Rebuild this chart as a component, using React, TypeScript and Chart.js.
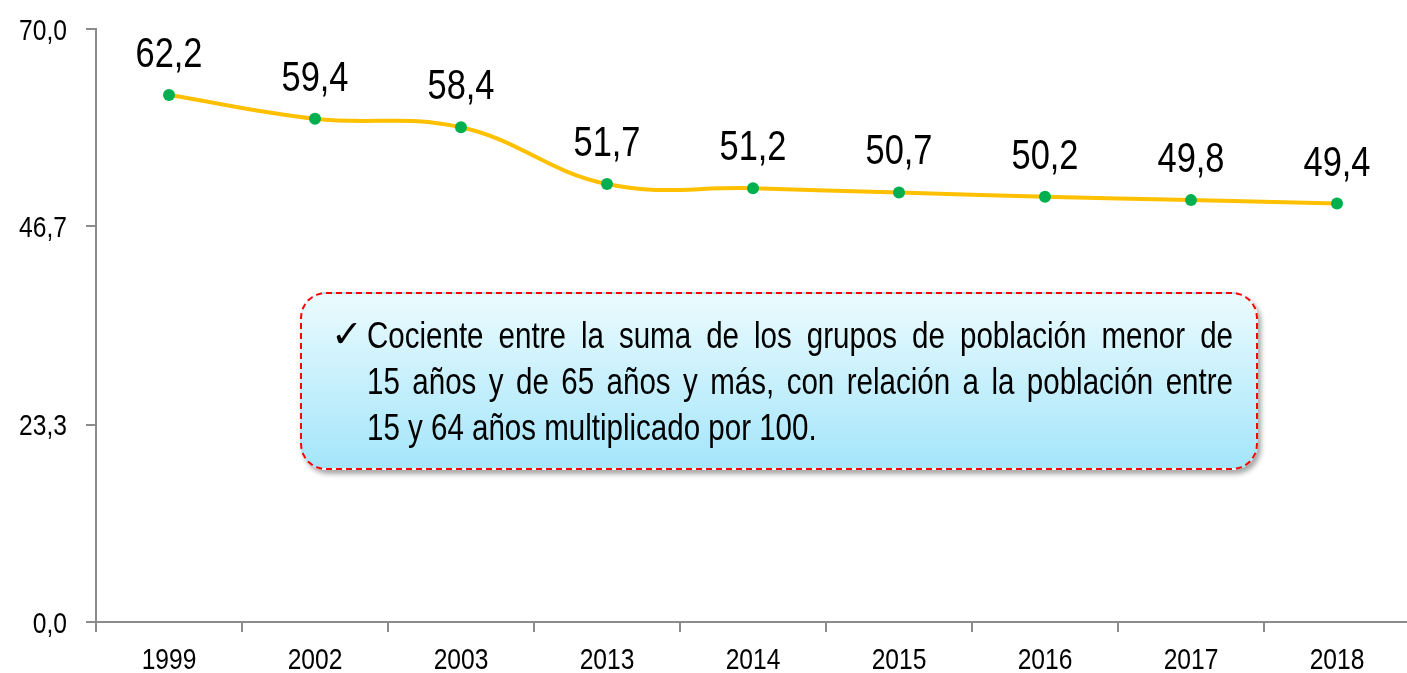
import React, { useEffect, useRef } from "react";
import { Chart, registerables } from "chart.js";
Chart.register(...registerables);

const categories = ["1999", "2002", "2003", "2013", "2014", "2015", "2016", "2017", "2018"];
const values = [62.2, 59.4, 58.4, 51.7, 51.2, 50.7, 50.2, 49.8, 49.4];
const yTicks = [0, 23.3, 46.7, 70];
const noteLines = [
  "Cociente entre la suma de los grupos de población menor de",
  "15 años y de 65 años y más, con relación a la población entre",
  "15 y 64 años multiplicado por 100.",
];

const FONT = "'Liberation Sans', Arial, sans-serif";
const NARROW = 0.82;
const fmt = (v: number) => Number(v).toFixed(1).replace(".", ",");

function narrowText(ctx: any, text: string, x: number, y: number, size: number, align: string) {
  ctx.save();
  ctx.font = `${size}px ${FONT}`;
  ctx.fillStyle = "#000";
  ctx.textBaseline = "alphabetic";
  ctx.textAlign = align;
  ctx.translate(x, y);
  ctx.scale(NARROW, 1);
  ctx.fillText(text, 0, 0);
  ctx.restore();
}

const textPlugin = {
  id: "narrowTexts",
  afterDraw(chart: any) {
    const ctx = chart.ctx;
    const meta = chart.getDatasetMeta(0);
    meta.data.forEach((pt: any, i: number) => {
      narrowText(ctx, fmt(values[i]), pt.x, pt.y - 28, 42, "center");
    });
    const ys = chart.scales.y;
    ys.ticks.forEach((t: any) => {
      const py = ys.getPixelForValue(t.value);
      narrowText(ctx, fmt(t.value), ys.right - 29, py + 10.5, 30, "right");
    });
    const xs = chart.scales.x;
    categories.forEach((c, i) => {
      narrowText(ctx, c, xs.getPixelForValue(i), chart.chartArea.bottom + 47, 30, "center");
    });
  },
};

export default function App() {
  const ref = useRef<HTMLCanvasElement | null>(null);
  useEffect(() => {
    if (!ref.current) return;
    const axisColor = "#8c8c8c";
    const chart = new Chart(ref.current, {
      type: "line",
      data: {
        labels: categories,
        datasets: [
          {
            data: values,
            borderColor: "#FFC000",
            borderWidth: 4,
            tension: 0.4,
            pointRadius: 6,
            pointBackgroundColor: "#00B050",
            pointBorderColor: "#00B050",
            pointBorderWidth: 0,
          },
        ],
      },
      options: {
        responsive: false,
        animation: false,
        layout: { autoPadding: false, padding: { top: 29, right: 0, left: 0, bottom: 0 } },
        plugins: { legend: { display: false }, tooltip: { enabled: false } },
        scales: {
          x: {
            type: "category",
            offset: true,
            grid: {
              offset: true,
              drawOnChartArea: false,
              drawTicks: true,
              tickLength: 10,
              color: axisColor,
              lineWidth: 2,
            },
            border: { color: axisColor, width: 2 },
            ticks: { display: false, autoSkip: false },
            afterFit: (s: any) => {
              s.height = 51;
            },
          },
          y: {
            min: 0,
            max: 70,
            afterBuildTicks: (s: any) => {
              s.ticks = yTicks.map((v) => ({ value: v }));
            },
            grid: { drawOnChartArea: false, drawTicks: true, tickLength: 10, color: axisColor, lineWidth: 2 },
            border: { color: axisColor, width: 2 },
            ticks: { display: false },
            afterFit: (s: any) => {
              s.width = 96;
            },
          },
        },
      },
      plugins: [textPlugin],
    } as any);
    return () => chart.destroy();
  }, []);

  const innerWidth = 866;
  return (
    <div
      style={{
        position: "fixed",
        left: 0,
        top: 0,
        width: 1407,
        height: 673,
        overflow: "hidden",
        background: "#fff",
      }}
    >
      <canvas ref={ref} width={1410} height={673} style={{ display: "block", width: 1410, height: 673 }} />
      <div
        style={{
          position: "absolute",
          left: 300,
          top: 292,
          width: 958,
          height: 178,
          boxSizing: "border-box",
          border: "2px dashed #FF0000",
          borderRadius: 26,
          background: "linear-gradient(to bottom, #EBFBFE 0%, #A4E5FA 100%)",
          boxShadow: "3px 4px 5px rgba(0,0,0,0.35)",
          fontFamily: FONT,
          fontSize: 36,
          lineHeight: "46px",
          color: "#000",
        }}
      >
        <span
          style={{
            position: "absolute",
            left: 29,
            top: 17,
            fontFamily: "'DejaVu Sans', sans-serif",
            fontSize: 38,
            lineHeight: "46px",
            fontWeight: "bold",
          }}
        >
          ✓
        </span>
        <div
          style={{
            position: "absolute",
            left: 65,
            top: 19,
            width: innerWidth / NARROW,
            transform: `scaleX(${NARROW})`,
            transformOrigin: "0 0",
          }}
        >
          {noteLines.map((line, i) => (
            <div
              key={i}
              style={{
                textAlign: i < noteLines.length - 1 ? "justify" : "left",
                textAlignLast: i < noteLines.length - 1 ? "justify" : "left",
                whiteSpace: "nowrap",
              } as any}
            >
              {line}
            </div>
          ))}
        </div>
      </div>
    </div>
  );
}
